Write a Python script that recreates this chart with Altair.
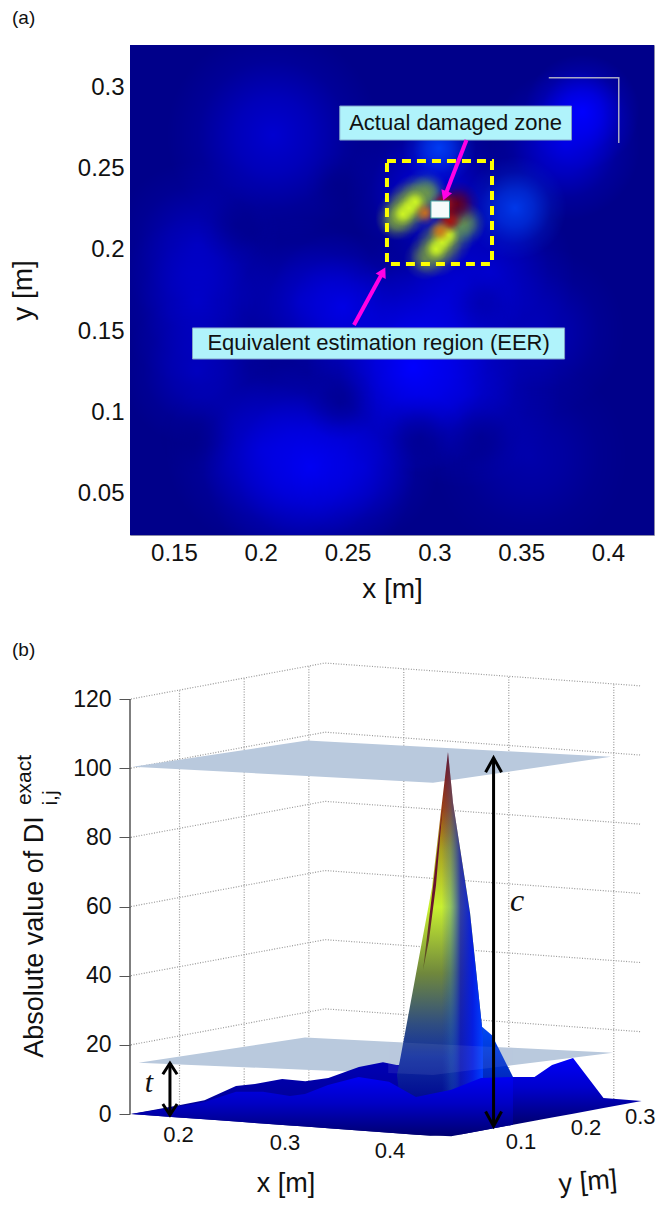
import altair as alt
import numpy as np
import pandas as pd

FONT = "Liberation Sans"

# ---------- panel (a): field, as soft spots over a navy base ----------
A_X = [0.1247, 0.4265]
A_Y = [0.0248, 0.3258]
a_xticks = [0.15, 0.2, 0.25, 0.3, 0.35, 0.4]
a_yticks = [0.05, 0.1, 0.15, 0.2, 0.25, 0.3]

blue_x = [.2071, .1633, .1633, .1633, .3851, .3753, .2975, .3321, .2877, .2474, .3165, .2284, .2589, .2013, .3609, .2226, .3551, .3033]
blue_y = [.2705, .2030, .1686, .1256, .2847, .2644, .2362, .1870, .1281, .1649, .1140, .0667, .0667, .0771, .1502, .1686, .0728, .1686]
blue_r = [120, 95, 95, 85, 65, 85, 95, 95, 120, 85, 110, 120, 85, 110, 95, 95, 110, 95]
blue_o = [.6, .42, .47, .42, 1, .7, .65, .52, 1, .7, .45, .85, .45, .5, .38, .4, .28, .52]

azure_x = [.3027, .3465]
azure_y = [.2626, .2257]
azure_r = [42, 58]
azure_o = [.85, .8]

dark_x = [.2457, .2917, .3263, .1633, .1863, .2439, .3263]
dark_y = [.1060, .0851, .0851, .0851, .2153, .2398, .1674]
dark_r = [42, 48, 48, 45, 45, 36, 36]
dark_o = [.5, .5, .5, .4, .42, .35, .3]

teal_x = [.3148, .2946]
teal_y = [.2147, .2362]
teal_r = [28, 26]
teal_o = [.75, .65]

olive_x = [.2773, .2963, .2946, .3177, .2802, .2889, .2848, .3007, .3061]
olive_y = [.2177, .2349, .1944, .2165, .2208, .2312, .2257, .1993, .2067]
olive_r = [22, 22, 24, 24, 28, 28, 30, 30, 32]
olive_o = [.7, .7, .7, .7, .95, .95, 1, .95, 1]

yellow_x = [.2819, .2854, .2889, .3010, .3044, .3079]
yellow_y = [.2220, .2257, .2294, .2005, .2048, .2091]
yellow_r = [14, 14, 14, 14, 14, 14]
yellow_o = [1, 1, 1, 1, 1, 1]

maroon_x = [.3131, .3080]
maroon_y = [.2282, .2240]
maroon_r = [26, 20]
maroon_o = [1, 1]

red_x = [.3090, .3056]
red_y = [.2177, .2282]
red_r = [15, 16]
red_o = [1, 1]

orange_x = [.3033, .2946]
orange_y = [.2116, .2226]
orange_r = [14, 14]
orange_o = [.9, .9]

boxes_label = ["Actual damaged zone", "Equivalent estimation region (EER)"]
box_x1 = [.2455, .1607]
box_x2 = [.3790, .3750]
box_y1 = [.2674, .1329]
box_y2 = [.2883, .1520]
box_tx = [.3122, .2679]
box_ty = [.2778, .1425]

eer = dict(x=.2727, x2=.3332, y=.1913, y2=.2545)
zone = dict(x=.2980, x2=.3087, y=.2195, y2=.2300)
arrow_x = [.3185, .2537]
arrow_y = [.2674, .1538]
arrow_x2 = [.3061, .2704]
arrow_y2 = [.2331, .1864]
arrow_angle = [201, 28]
corner_x = [.3659, .4062, .4062]
corner_y = [.3057, .3057, .2656]


def radial(rgb):
    r, g, b = rgb
    return alt.Gradient(
        gradient="radial", x1=.5, y1=.5, x2=.5, y2=.5, r1=0, r2=.5,
        stops=[
            alt.GradientStop(offset=0, color=f"rgba({r},{g},{b},1)"),
            alt.GradientStop(offset=.35, color=f"rgba({r},{g},{b},.68)"),
            alt.GradientStop(offset=.7, color=f"rgba({r},{g},{b},.2)"),
            alt.GradientStop(offset=1, color=f"rgba({r},{g},{b},0)"),
        ],
    )


ax = alt.Scale(domain=A_X, nice=False, zero=False)
ay = alt.Scale(domain=A_Y, nice=False, zero=False)
A_XAXIS = alt.Axis(
    title="x [m]", values=a_xticks, format="~g", ticks=False, domain=False, grid=False, labelFont=FONT, labelFontSize=24,
    labelColor="#111", labelPadding=6, titleFont=FONT, titleFontSize=28, titleFontWeight="normal",
    titleColor="#111", titlePadding=10)
A_YAXIS = alt.Axis(
    title="y [m]", values=a_yticks, format="~g", ticks=False, domain=False, grid=False, labelFont=FONT, labelFontSize=24,
    labelColor="#111", labelPadding=6, titleFont=FONT, titleFontSize=28, titleFontWeight="normal",
    titleColor="#111", titleX=-93, minExtent=121, maxExtent=121)
AXN = alt.X("x:Q", scale=ax, axis=A_XAXIS)
AYN = alt.Y("y:Q", scale=ay, axis=A_YAXIS)


def spots(xs, ys, rs, os, rgb):
    df = pd.DataFrame({"x": xs, "y": ys, "o": os, "s": [np.pi * r * r for r in rs]})
    return alt.Chart(df).mark_point(
        filled=True, shape="circle", fill=radial(rgb), strokeOpacity=0, clip=True
    ).encode(AXN, AYN, size=alt.Size("s:Q", scale=None), opacity=alt.Opacity("o:Q", scale=None))


a_base = alt.Chart(pd.DataFrame({"x": [A_X[0]], "x2": [A_X[1]], "y": [A_Y[0]], "y2": [A_Y[1]]})).mark_rect(color="#00008a").encode(
    AXN, alt.X2("x2:Q"), AYN, alt.Y2("y2:Q"))

a_spots = [
    spots(blue_x, blue_y, blue_r, blue_o, (0, 0, 255)),
    spots(azure_x, azure_y, azure_r, azure_o, (0, 70, 255)),
    spots(dark_x, dark_y, dark_r, dark_o, (0, 0, 120)),
    spots(teal_x, teal_y, teal_r, teal_o, (60, 150, 130)),
    spots(olive_x, olive_y, olive_r, olive_o, (120, 160, 60)),
    spots(maroon_x, maroon_y, maroon_r, maroon_o, (100, 0, 30)),
    spots(yellow_x, yellow_y, yellow_r, yellow_o, (205, 245, 35)),
    spots(red_x, red_y, red_r, red_o, (170, 20, 15)),
    spots(orange_x, orange_y, orange_r, orange_o, (215, 115, 20)),
]

box_df = pd.DataFrame({"x": box_x1, "x2": box_x2, "y": box_y1, "y2": box_y2, "tx": box_tx, "ty": box_ty, "t": boxes_label})
a_boxes = alt.Chart(box_df).mark_rect(fill="#b0f3fb", stroke="#7f9fc8", strokeWidth=1).encode(
    AXN, alt.X2("x2:Q"), AYN, alt.Y2("y2:Q"))
a_text = alt.Chart(box_df).mark_text(font=FONT, fontSize=22, color="#111").encode(
    alt.X("tx:Q", scale=ax, axis=A_XAXIS), alt.Y("ty:Q", scale=ay, axis=A_YAXIS), text="t:N")

a_eer = alt.Chart(pd.DataFrame([eer])).mark_rect(
    fillOpacity=0, stroke="#ffff00", strokeWidth=4, strokeDash=[9, 6]).encode(AXN, alt.X2("x2:Q"), AYN, alt.Y2("y2:Q"))
a_zone = alt.Chart(pd.DataFrame([zone])).mark_rect(
    fill="#f6fbfb", stroke="#3aa0a0", strokeWidth=1).encode(AXN, alt.X2("x2:Q"), AYN, alt.Y2("y2:Q"))

arr_df = pd.DataFrame({"x": arrow_x, "y": arrow_y, "x2": arrow_x2, "y2": arrow_y2, "a": arrow_angle})
a_arrow = alt.Chart(arr_df).mark_rule(color="#ff00e6", strokeWidth=4).encode(AXN, alt.X2("x2:Q"), AYN, alt.Y2("y2:Q"))
a_head = alt.Chart(arr_df).mark_point(filled=True, shape="triangle-up", color="#ff00e6", opacity=1, size=130).encode(
    alt.X("x2:Q", scale=ax, axis=A_XAXIS), alt.Y("y2:Q", scale=ay, axis=A_YAXIS), angle=alt.Angle("a:Q", scale=None))
a_corner = alt.Chart(pd.DataFrame({"x": corner_x, "y": corner_y, "k": range(3)})).mark_line(
    color="#a9a9c4", strokeWidth=1.5).encode(AXN, AYN, order="k:O")
a_tag = alt.Chart(pd.DataFrame({"t": ["(a)"]})).mark_text(
    font=FONT, fontSize=19, align="left", color="#111").encode(x=alt.value(-118), y=alt.value(-27), text="t:N")

panel_a = alt.layer(a_base, *a_spots, a_boxes, a_text, a_eer, a_arrow, a_zone, a_head, a_corner, a_tag).properties(
    width=524, height=490, view=alt.ViewBackground(stroke="#8a8aa8", strokeWidth=1))

# ---------- panel (b): 3-D view ----------
z_ticks = [0, 20, 40, 60, 80, 100, 120]
X0, X1 = 0.125, 0.4265
Y0, Y1 = 0.025, 0.325


def view_u(x, y):
    return x + 0.616 * (y - Y0)


def view_h(x, y, z):
    return z - 21.98 * (x - X0) + 34.7 * (y - Y0)


bs_x = alt.Scale(domain=[0.12405, 0.62119], nice=False, zero=False)
bs_y = alt.Scale(domain=[-24.29, 137.07], nice=False, zero=False)
B_ZAXIS = alt.Axis(
    title=None, values=z_ticks, format="d", tickSize=11, tickColor="#555", domain=False, grid=False, labelFont=FONT,
    labelFontSize=23, labelColor="#111", labelPadding=8, minExtent=121, maxExtent=121)
BX = alt.X("u:Q", scale=bs_x, axis=None)
BY = alt.Y("h:Q", scale=bs_y, axis=B_ZAXIS)


def area(us, top, bot, fill, **kw):
    df = pd.DataFrame({"u": us, "h": top, "h2": bot})
    return alt.Chart(df).mark_area(fill=fill, **kw).encode(BX, BY, alt.Y2("h2:Q"))


def vgrad(*stops):
    return alt.Gradient(gradient="linear", x1=0, x2=0, y1=0, y2=1,
                        stops=[alt.GradientStop(offset=o, color=c) for o, c in stops])


def hgrad(*stops):
    return alt.Gradient(gradient="linear", x1=0, x2=1, y1=0, y2=0,
                        stops=[alt.GradientStop(offset=o, color=c) for o, c in stops])


base_corner_u = [X0, X1, view_u(X1, Y1)]
base_corner_h = [0, view_h(X1, Y0, 0), view_h(X1, Y1, 0)]


def base(us):
    return list(np.interp(us, base_corner_u, base_corner_h))


# grid
g_rows = []
k = 0
for z in z_ticks[1:]:
    for (x, y) in [(X0, Y0), (X0, Y1), (X1, Y1)]:
        g_rows.append({"u": view_u(x, y), "h": view_h(x, y, z), "g": k})
    k += 1
for y in [.1, .2, .3]:
    for z in [0, 120]:
        g_rows.append({"u": view_u(X0, y), "h": view_h(X0, y, z), "g": k})
    k += 1
for x in [.2, .3, .4]:
    for z in [0, 120]:
        g_rows.append({"u": view_u(x, Y1), "h": view_h(x, Y1, z), "g": k})
    k += 1
b_grid = alt.Chart(pd.DataFrame(g_rows)).mark_line(color="#989898", strokeWidth=1.2, strokeDash=[1, 1.6]).encode(
    BX, BY, detail="g:N")

b_axis = alt.Chart(pd.DataFrame({"h": [0], "h2": [120]})).mark_rule(color="#555", strokeWidth=1.5).encode(
    x=alt.value(0), y=BY, y2="h2:Q")

# threshold planes
plane_u_hi = [.1266, .2926, .4126, .5821]
plane_top_hi = [100.4, 108, 106.05, 103.3]
plane_bot_hi = [100.4, 97.73, 95.8, 103.3]
plane_u_lo = [.1321, .2907, .4126, .5840]
plane_top_lo = [14.8, 22.1, 20.27, 17.7]
plane_bot_lo = [14.8, 12.82, 11.3, 17.7]
veil_u = [.37, .4126, .4888]
veil_top = [20.9, 20.27, 19.13]
veil_bot = [11.83, 11.3, 14.15]
PLANE = "#b9c9dd"
b_plane_hi = area(plane_u_hi, plane_top_hi, plane_bot_hi, PLANE)
b_plane_lo = area(plane_u_lo, plane_top_lo, plane_bot_lo, PLANE)
b_plane_lo_veil = area(veil_u, veil_top, veil_bot, PLANE, opacity=.1)

# surface silhouettes
back_u = [.125, .167, .195, .225, .243, .269, .291, .313, .342, .365, .378, .41, .44, .4888]
back_h = [0, 2.3, 4.0, 8.1, 8.7, 10.1, 9.5, 10.4, 13.6, 15.0, 14.2, 14.0, 14.0, 10.7]
b_back = area(back_u, back_h, base(back_u), vgrad((0, "#0000b4"), (.5, "#00009c"), (1, "#000070")))

front_u = [.125, .167, .195, .225, .2507, .2764, .2907, .3126, .3417, .3707, .3964, .43, .4583, .4888]
front_h = [0, 2.0, 3.5, 6.4, 6.4, 5.2, 5.8, 8.4, 10.7, 9.3, 4.9, 7.0, 10.4, 10.7]
b_front = area(front_u, front_h, base(front_u), vgrad((0, "#0000f2"), (.45, "#0000c4"), (1, "#000070")))

right_u = [.4888, .5093, .5260, .5460, .5750, .6113]
right_h = [10.7, 10.7, 14.2, 16.2, 4.6, 3.77]
b_right = area(right_u, right_h, base(right_u), vgrad((0, "#0000fa"), (.45, "#0000cc"), (1, "#000070")))

ledge_u = [.4400, .4593, .4688, .4888]
ledge_top = [25.2, 25.2, 22.8, 10.7]
ledge_bot = [6.0, 6.0, 6.0, 6.0]
b_ledge = area(ledge_u, ledge_top, ledge_bot, vgrad((0, "#0048f4"), (1, "#0020b0")))

peak_u = [.3783, .3812, .4117, .4269, .4317, .4479, .4593, .4602]
peak_top = [11.3, 15.6, 65.6, 104.7, 89.9, 58.1, 25.2, 22.8]
peak_bot = [11.3, 4.0, 4.0, 4.0, 4.0, 4.0, 4.0, 4.0]
b_peak = area(peak_u, peak_top, peak_bot, vgrad(
    (0, "#6e0c14"), (.08, "#8e2010"), (.158, "#a04010"), (.28, "#a8a020"), (.445, "#c8f030"),
    (.635, "#70883c"), (.78, "#304e80"), (.876, "#102ea0"), (1, "#000a90")))
b_peak_tone = area(peak_u, peak_top, peak_bot, hgrad(
    (0, "rgba(20,40,180,0)"), (.52, "rgba(20,60,190,0)"), (.62, "rgba(30,100,190,.3)"),
    (.74, "rgba(12,20,190,.8)"), (.88, "rgba(5,30,225,1)"), (1, "rgba(0,64,255,1)")))

slit_u = [.4031, .4088, .4155, .4221]
slit_top = [41.6, 56.1, 73.2, 89.9]
slit_bot = [41.6, 50.3, 66.2, 89.9]
b_slit = area(slit_u, slit_top, slit_bot, vgrad((0, "#6a1024"), (.6, "#6a1030"), (1, "#5a6020")))

# arrows
t_u, t_top, t_bot = .1621, 14.7, -0.3
c_u, c_top, c_bot = .4703, 103.0, -3.5


def arrow(u, top, bot, hw, hl, w):
    rows = [{"u": u, "h": top, "g": 0, "k": 0}, {"u": u, "h": bot, "g": 0, "k": 1},
            {"u": u - hw, "h": top - hl, "g": 1, "k": 0}, {"u": u, "h": top, "g": 1, "k": 1}, {"u": u + hw, "h": top - hl, "g": 1, "k": 2},
            {"u": u - hw, "h": bot + hl, "g": 2, "k": 0}, {"u": u, "h": bot, "g": 2, "k": 1}, {"u": u + hw, "h": bot + hl, "g": 2, "k": 2}]
    return alt.Chart(pd.DataFrame(rows)).mark_line(color="#000", strokeWidth=w).encode(BX, BY, detail="g:N", order="k:O")


b_arrow_t = arrow(t_u, t_top, t_bot, .0068, 3.2, 3)
b_arrow_c = arrow(c_u, c_top, c_bot, .0076, 4.2, 3)

# tick and axis labels on the floor
lab_t = ["0.2", "0.3", "0.4", "0.1", "0.2", "0.3"]
lab_u = [.1703, .2717, .3717, .4964, .5583, .6100]
lab_h = [-6.1, -8.4, -10.7, -8.1, -4.0, -0.9]
b_ticklabels = alt.Chart(pd.DataFrame({"u": lab_u, "h": lab_h, "t": lab_t})).mark_text(
    font=FONT, fontSize=22, color="#111").encode(BX, BY, text="t:N")
b_xtitle = alt.Chart(pd.DataFrame({"u": [.2726], "h": [-20.2], "t": ["x [m]"]})).mark_text(
    font=FONT, fontSize=27, color="#111").encode(BX, BY, text="t:N")
b_ytitle = alt.Chart(pd.DataFrame({"u": [.5602], "h": [-19.7], "t": ["y [m]"]})).mark_text(
    font=FONT, fontSize=27, color="#111", angle=355).encode(BX, BY, text="t:N")
b_t = alt.Chart(pd.DataFrame({"u": [.1421], "h": [9.0], "t": ["t"]})).mark_text(
    font="Liberation Serif", fontStyle="italic", fontSize=30, color="#111").encode(BX, BY, text="t:N")
b_c = alt.Chart(pd.DataFrame({"u": [.4926], "h": [61.6], "t": ["c"]})).mark_text(
    font="Liberation Serif", fontStyle="italic", fontSize=32, color="#111").encode(BX, BY, text="t:N")

b_tag = alt.Chart(pd.DataFrame({"t": ["(b)"]})).mark_text(
    font=FONT, fontSize=19, align="left", color="#111").encode(x=alt.value(-118), y=alt.value(10), text="t:N")
b_zt = alt.Chart(pd.DataFrame({"t": ["Absolute value of DI"]})).mark_text(
    font=FONT, fontSize=27, angle=270, baseline="alphabetic", color="#111").encode(x=alt.value(-87), y=alt.value(297), text="t:N")
b_zt_sup = alt.Chart(pd.DataFrame({"t": ["exact"]})).mark_text(
    font=FONT, fontSize=21, angle=270, baseline="alphabetic", color="#111").encode(x=alt.value(-99), y=alt.value(140), text="t:N")
b_zt_sub = alt.Chart(pd.DataFrame({"t": ["i,j"]})).mark_text(
    font=FONT, fontSize=21, angle=270, baseline="alphabetic", color="#111").encode(x=alt.value(-73), y=alt.value(158), text="t:N")

panel_b = alt.layer(
    b_grid, b_axis, b_plane_hi, b_plane_lo, b_back, b_ledge, b_peak, b_peak_tone, b_slit, b_plane_lo_veil, b_front, b_right,
    b_arrow_t, b_arrow_c, b_ticklabels, b_xtitle, b_ytitle, b_t, b_c, b_tag, b_zt, b_zt_sup, b_zt_sub,
).properties(width=522, height=558, view=alt.ViewBackground(stroke="transparent"))

chart = alt.vconcat(panel_a, panel_b, spacing=35).properties(
    padding={"left": 0, "right": 0, "top": 0, "bottom": 0}, background="white"
).resolve_scale(x="independent", y="independent")

chart.save("out.html", embed_options={"renderer": "svg", "actions": False})
